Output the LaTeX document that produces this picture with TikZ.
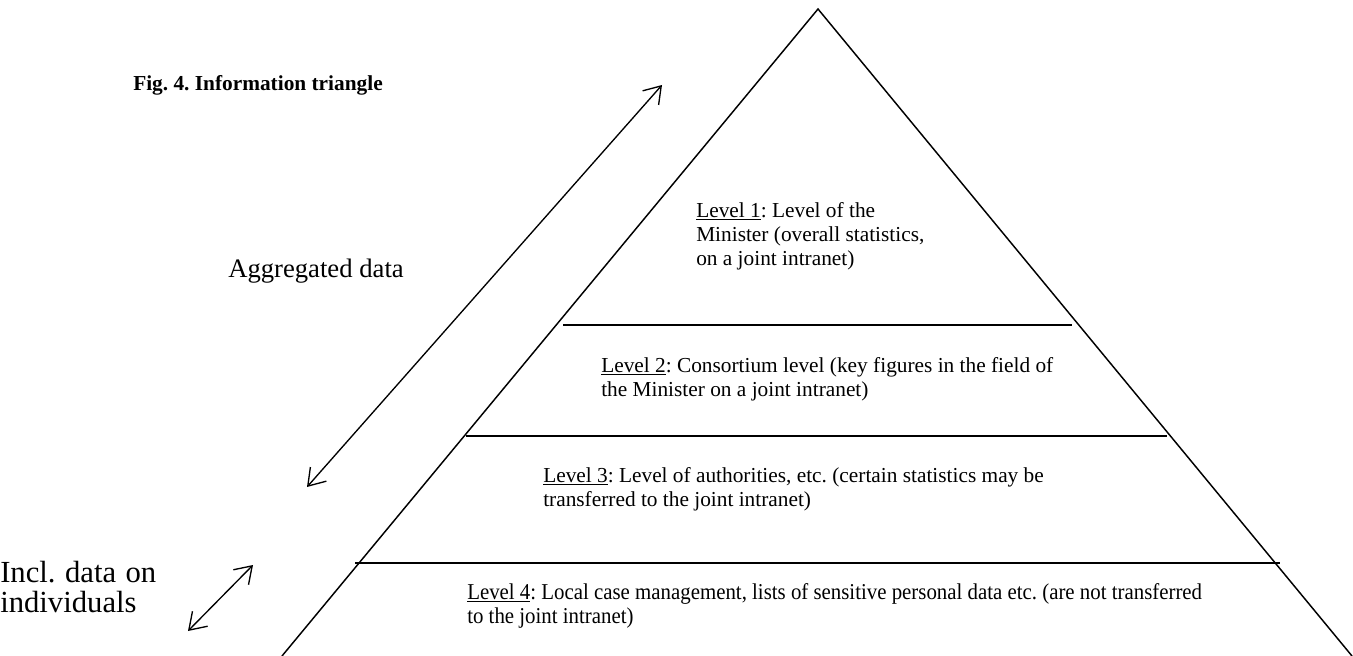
\documentclass[tikz,border=0pt]{standalone}
\usepackage{fontspec}
\setmainfont{Liberation Serif}
\newfontfamily\condfont[FakeStretch=0.92]{Liberation Serif}
\usetikzlibrary{arrows.meta}
\begin{document}
\frenchspacing
\begin{tikzpicture}[x=0.75pt,y=-0.75pt,
  edge/.style={line width=1.1pt},
  dbl/.style={line width=1pt,{Straight Barb[length=12pt,width=16pt]}-{Straight Barb[length=12pt,width=16pt]}},
  lvl/.style={anchor=base west,align=left,inner sep=0pt,font=\fontsize{16}{17.8}\selectfont},
  lvlfour/.style={anchor=base west,align=left,inner sep=0pt,font=\condfont\fontsize{17}{18}\selectfont},
  big/.style={anchor=base west,align=left,inner sep=0pt,font=\fontsize{20}{19}\selectfont},
  side/.style={anchor=base west,align=left,inner sep=0pt,font=\fontsize{23}{22}\selectfont},
  title/.style={anchor=base west,inner sep=0pt,font=\fontsize{16}{18.6}\selectfont\bfseries}
]
\useasboundingbox (0,0) rectangle (1353,656);
% triangle
\coordinate (apex) at (818,9);
\coordinate (bl) at (282,656);
\coordinate (br) at (1352,656);
\draw[edge,line join=miter] (bl) -- (apex) -- (br);
% level separators
\coordinate (s1a) at (563,325); \coordinate (s1b) at (1072,325);
\coordinate (s2a) at (466,436); \coordinate (s2b) at (1167,436);
\coordinate (s3a) at (355,563); \coordinate (s3b) at (1280,563);
\draw[edge] (s1a) -- (s1b);
\draw[edge] (s2a) -- (s2b);
\draw[edge] (s3a) -- (s3b);
% arrows
\coordinate (a1) at (307,487); \coordinate (a2) at (662,85);
\coordinate (b1) at (188,631); \coordinate (b2) at (253,565);
\draw[dbl] (a1) -- (a2);
\draw[dbl] (b1) -- (b2);
% texts (anchor = baseline of the last line)
\node[title] (fig) at (133,91) {Fig. 4. Information triangle};
\node[big] (agg) at (228,277) {Aggregated data};
\node[side] (ind) at (0,612) {\makebox[117pt][s]{Incl. data on}\\individuals};
\node[lvl] (lv1) at (696,265) {\underline{Level 1}: Level of the\\Minister (overall statistics,\\on a joint intranet)};
\node[lvl] (lv2) at (601,396) {\underline{Level 2}: Consortium level (key figures in the field of\\the Minister on a joint intranet)};
\node[lvl] (lv3) at (543,506) {\underline{Level 3}: Level of authorities, etc. (certain statistics may be\\transferred to the joint intranet)};
\node[lvlfour] (lv4) at (467,623) {\underline{Level 4}: Local case management, lists of sensitive personal data etc. (are not transferred\\to the joint intranet)};
\end{tikzpicture}
\end{document}
